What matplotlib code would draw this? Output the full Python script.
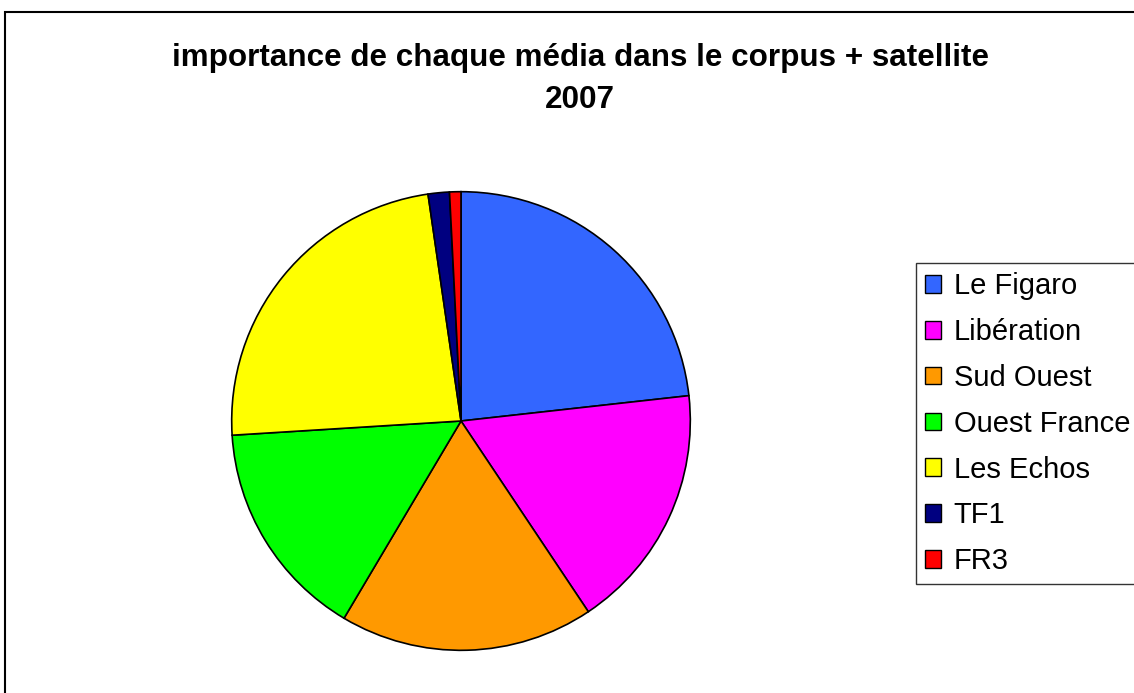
import matplotlib
matplotlib.use("Agg")
import matplotlib.pyplot as plt
from matplotlib.patches import Rectangle, Patch

labels = ["Le Figaro", "Libération", "Sud Ouest", "Ouest France", "Les Echos", "TF1", "FR3"]
values = [23.25, 17.4, 17.9, 15.5, 23.7, 1.5, 0.8]
colors = ["#3366FF", "#FF00FF", "#FF9900", "#00FF00", "#FFFF00", "#000080", "#FF0000"]
title = "importance de chaque média dans le corpus + satellite\n2007"

plt.rcParams['font.family'] = ['Liberation Sans', 'DejaVu Sans']

W, H = 1134, 693
fig = plt.figure(figsize=(W / 100, H / 100), dpi=100)

# outer chart frame
fig.patches.append(Rectangle((5 / W, -0.1), 1.2, 1 - 12 / H + 0.1, transform=fig.transFigure,
                             fill=False, edgecolor='black', linewidth=1.5, zorder=0))

cx, cy, r = 461, 421, 230
ax = fig.add_axes([(cx - r) / W, (H - cy - r) / H, 2 * r / W, 2 * r / H])
ax.pie(values, colors=colors, startangle=90, counterclock=False,
       wedgeprops=dict(edgecolor='black', linewidth=1.2))
ax.set_xlim(-1.003, 1.003)
ax.set_ylim(-1.003, 1.003)
ax.set_aspect('equal')

fig.text(580 / W, 1 - 58 / H, "importance de chaque média dans le corpus + satellite",
         ha='center', va='center', fontsize=22.6, fontweight='bold')
fig.text(580 / W, 1 - 100 / H, "2007", ha='center', va='center', fontsize=22.6, fontweight='bold')

handles = [Patch(facecolor=c, edgecolor='black', linewidth=1.0) for c in colors]
leg = fig.legend(handles, labels, loc='upper left', bbox_to_anchor=(916 / W, 1 - 263 / H),
                 bbox_transform=fig.transFigure, frameon=True, fontsize=21,
                 handlelength=0.55, handleheight=0.55, handletextpad=0.42,
                 labelspacing=0.61, borderpad=0.32, borderaxespad=0, fancybox=False)
leg.get_frame().set_edgecolor('black')
leg.get_frame().set_linewidth(1.0)

fig.savefig("out.png", dpi=100)
